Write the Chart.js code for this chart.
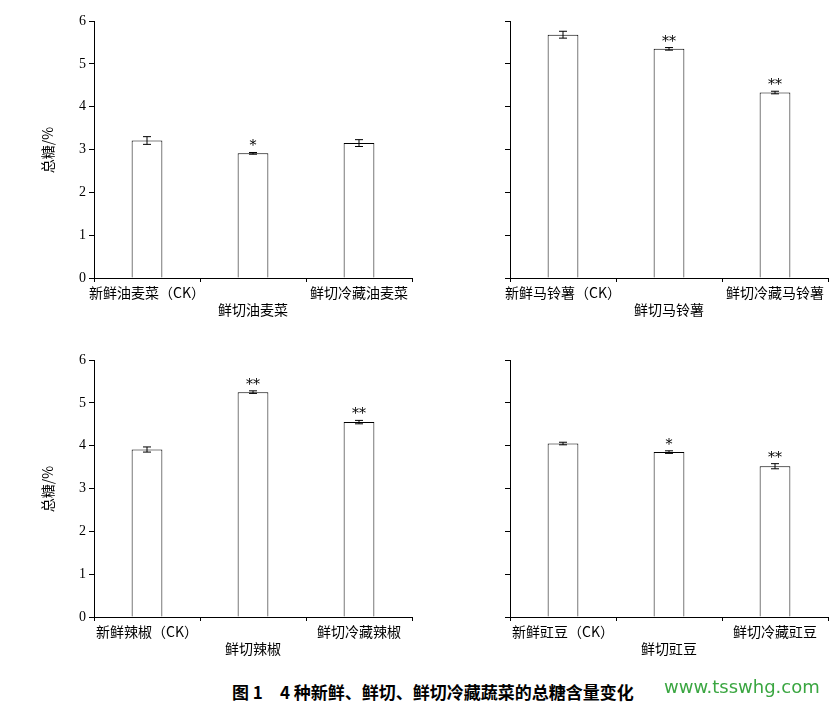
<!DOCTYPE html>
<html><head><meta charset="utf-8">
<script src="https://cdn.jsdelivr.net/npm/chart.js@4"></script>
<style>
body{margin:0;background:#fff;width:836px;height:703px;position:relative;overflow:hidden;font-family:"Noto Sans CJK SC",sans-serif}
canvas{position:absolute}
.yt{position:absolute;font-size:14px;transform:rotate(-90deg);transform-origin:center;white-space:nowrap}
</style></head><body>
<canvas id="c1" style="left:50px;top:0"></canvas>
<canvas id="c2" style="left:466px;top:0"></canvas>
<canvas id="c3" style="left:50px;top:339px"></canvas>
<canvas id="c4" style="left:466px;top:339px"></canvas>
<div class="yt" style="left:24px;top:140px">总糖/%</div>
<div class="yt" style="left:24px;top:479px">总糖/%</div>
<div style="position:absolute;left:232px;top:679px;font-size:17px;font-weight:bold">图 1　4 种新鲜、鲜切、鲜切冷藏蔬菜的总糖含量变化</div>
<div style="position:absolute;left:664px;top:676px;font-size:18px;color:#3aa641;font-family:'DejaVu Sans'">www.tsswhg.com</div>
<script>
const labels1 = ["新鲜油麦菜（CK）", ["", "鲜切油麦菜"], "鲜切冷藏油麦菜"];
const labels2 = ["新鲜马铃薯（CK）", ["", "鲜切马铃薯"], "鲜切冷藏马铃薯"];
const labels3 = ["新鲜辣椒（CK）", ["", "鲜切辣椒"], "鲜切冷藏辣椒"];
const labels4 = ["新鲜豇豆（CK）", ["", "鲜切豇豆"], "鲜切冷藏豇豆"];
const values1 = [3.21, 2.91, 3.15];
const values2 = [5.68, 5.35, 4.33];
const values3 = [3.91, 5.25, 4.55];
const values4 = [4.05, 3.85, 3.52];
const err1 = [0.09, 0.02, 0.08];
const err2 = [0.08, 0.03, 0.03];
const err3 = [0.06, 0.03, 0.04];
const err4 = [0.03, 0.03, 0.06];
const stars1 = ["", "*", ""];
const stars2 = ["", "**", "**"];
const stars3 = ["", "**", "**"];
const stars4 = ["", "*", "**"];
const yTicks = [0, 1, 2, 3, 4, 5, 6];

const errPlugin = {
  id: "err",
  afterDatasetsDraw(chart) {
    const ctx = chart.ctx, y = chart.scales.y, meta = chart.getDatasetMeta(0);
    const o = chart.options.plugins.err;
    ctx.save();
    ctx.strokeStyle = "#000"; ctx.lineWidth = 1;
    ctx.fillStyle = "#000"; ctx.font = "14px 'DejaVu Serif'"; ctx.textAlign = "center";
    meta.data.forEach((b, i) => {
      const v = o.values[i], e = o.err[i];
      const t = y.getPixelForValue(v + e), bo = y.getPixelForValue(v - e);
      ctx.beginPath();
      ctx.moveTo(b.x, t); ctx.lineTo(b.x, bo);
      ctx.moveTo(b.x - 4, t); ctx.lineTo(b.x + 4, t);
      ctx.moveTo(b.x - 4, bo); ctx.lineTo(b.x + 4, bo);
      ctx.stroke();
      if (o.stars[i]) ctx.fillText(o.stars[i], b.x, t - 2);
    });
    ctx.restore();
  }
};

function make(id, labels, values, err, stars, showY) {
  const cv = document.getElementById(id);
  cv.width = 370; cv.height = 340;
  cv.style.width = "370px"; cv.style.height = "340px";
  new Chart(cv, {
    type: "bar",
    data: { labels, datasets: [{ data: values, backgroundColor: "#fff", borderColor: "#000", borderWidth: 1, barPercentage: 0.29, categoryPercentage: 1 }] },
    options: {
      responsive: false, animation: false,
      layout: { padding: { top: 21, left: 14, right: 8, bottom: 0 } },
      plugins: { legend: { display: false }, tooltip: { enabled: false }, err: { values, err, stars } },
      scales: {
        x: {
          grid: { drawOnChartArea: false, tickLength: 4, color: "#000" },
          border: { color: "#000" },
          ticks: { color: "#000", maxRotation: 0, autoSkip: false, font: { size: 14, family: "Noto Sans CJK SC" }, padding: 2 },
          afterFit: s => { s.height = 62; }
        },
        y: {
          min: 0, max: 6,
          afterBuildTicks: s => { s.ticks = yTicks.map(v => ({ value: v })); },
          grid: { drawOnChartArea: false, tickLength: 5, color: "#000" },
          border: { color: "#000" },
          ticks: { color: "#000", font: { size: 14, family: "Liberation Serif" }, padding: 3, callback: v => showY ? v : "" },
          afterFit: s => { s.width = 30; }
        }
      }
    },
    plugins: [errPlugin]
  });
}
make("c1", labels1, values1, err1, stars1, true);
make("c2", labels2, values2, err2, stars2, false);
make("c3", labels3, values3, err3, stars3, true);
make("c4", labels4, values4, err4, stars4, false);
</script>
</body></html>
